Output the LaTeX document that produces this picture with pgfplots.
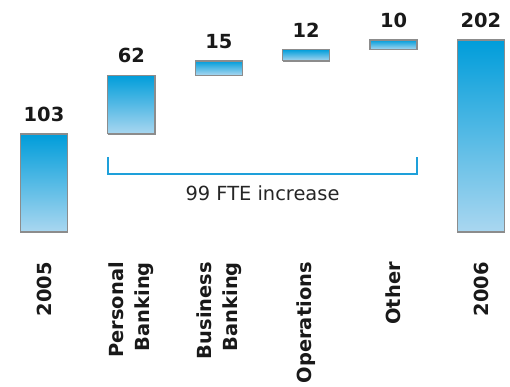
\documentclass[border=0pt]{standalone}
\usepackage{pgfplots}
\pgfplotsset{compat=1.18}
\usepackage{pgfplotstable}
\usepackage{fontspec}
\setmainfont{DejaVu Sans}
\definecolor{bartop}{RGB}{0,157,218}
\definecolor{barmid}{RGB}{30,170,225}
\definecolor{barbot}{RGB}{170,215,240}
\definecolor{brk}{RGB}{30,160,218}
\definecolor{shd}{RGB}{140,140,140}
\pgfplotstableread{
x top label
0 103 103
1 165 62
2 180 15
3 192 12
4 202 10
5 202 202
}\fte
\pgfplotsset{common/.style={
  at={(0.3bp,155bp)}, anchor=south west,
  scale only axis,
  width=506.9bp, height=199.6bp,
  xmin=-0.5, xmax=5.3, ymin=0, ymax=210,
  clip=false},
  fbar/.style={draw=shd, line width=1.2bp, top color=bartop, middle color=barmid, bottom color=barbot, mark=none, forget plot}}
\begin{document}
\begin{tikzpicture}
\path[use as bounding box] (0,0) rectangle (510bp,387bp);
\begin{axis}[
  common,
  axis line style={draw=none},
  major tick length=0pt,
  ytick=\empty,
  xtick={0,1,2,3,4,5},
  xticklabels={2005,{Personal\\Banking},{Business\\Banking},Operations,Other,2006},
  xticklabel style={rotate=90, anchor=east, align=right, inner sep=0pt,
    font=\fontsize{19.5}{26}\selectfont\bfseries, text=black!90},
  xticklabel shift=30bp,
]
% each bar: x from centre-0.269 to centre+0.269, y from base to base+value
\addplot[fbar] coordinates {(-0.269,0) (0.269,0) (0.269,103) (-0.269,103) (-0.269,0)};
\addplot[fbar] coordinates {(0.731,103) (1.269,103) (1.269,165) (0.731,165) (0.731,103)};
\addplot[fbar] coordinates {(1.731,165) (2.269,165) (2.269,180) (1.731,180) (1.731,165)};
\addplot[fbar] coordinates {(2.731,180) (3.269,180) (3.269,192) (2.731,192) (2.731,180)};
\addplot[fbar] coordinates {(3.731,192) (4.269,192) (4.269,202) (3.731,202) (3.731,192)};
\addplot[fbar] coordinates {(4.731,0) (5.269,0) (5.269,202) (4.731,202) (4.731,0)};
\draw[brk, line width=1.5bp] (axis cs:0.73,79) -- (axis cs:0.73,61) -- (axis cs:4.27,61) -- (axis cs:4.27,79);
\node[font=\fontsize{19.5}{22}\selectfont, text=black!85] at (axis cs:2.5,41) {99 FTE increase};
\addplot[draw=none, mark=none, nodes near coords, point meta=explicit symbolic,
  nodes near coords style={font=\fontsize{19.5}{22}\selectfont\bfseries, text=black!90, anchor=south, inner sep=0pt, yshift=12bp}]
  table[x=x, y=top, meta=label] {\fte};
\end{axis}
\end{tikzpicture}
\end{document}
